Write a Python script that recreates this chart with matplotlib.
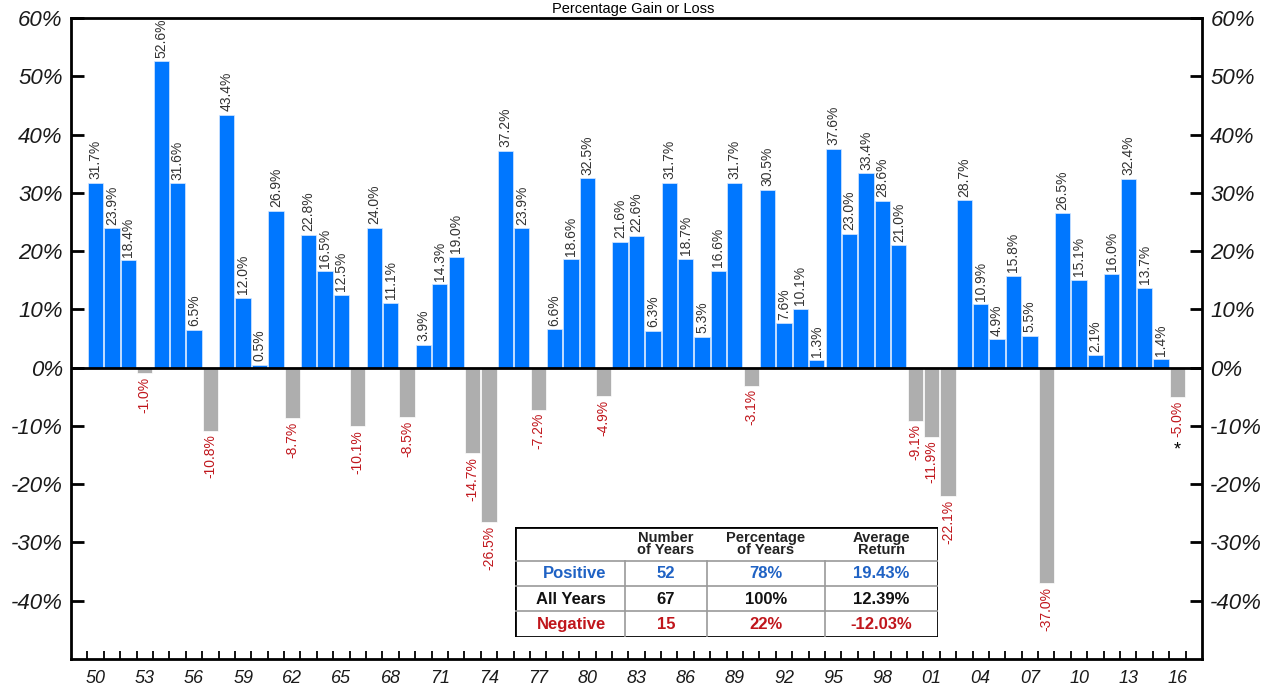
import numpy as np
import matplotlib
matplotlib.use("Agg")
from matplotlib import pyplot as plt
from matplotlib.ticker import FixedLocator

plt.rcParams['font.family'] = ['Liberation Sans', 'DejaVu Sans']

# S&P 500 calendar year returns, 1950-2016 (%)
years = np.arange(1950, 2017)
returns = np.array([
    31.7, 23.9, 18.4, -1.0, 52.6, 31.6, 6.5, -10.8, 43.4, 12.0,
    0.5, 26.9, -8.7, 22.8, 16.5, 12.5, -10.1, 24.0, 11.1, -8.5,
    3.9, 14.3, 19.0, -14.7, -26.5, 37.2, 23.9, -7.2, 6.6, 18.6,
    32.5, -4.9, 21.6, 22.6, 6.3, 31.7, 18.7, 5.3, 16.6, 31.7,
    -3.1, 30.5, 7.6, 10.1, 1.3, 37.6, 23.0, 33.4, 28.6, 21.0,
    -9.1, -11.9, -22.1, 28.7, 10.9, 4.9, 15.8, 5.5, -37.0, 26.5,
    15.1, 2.1, 16.0, 32.4, 13.7, 1.4, -5.0])

# summary table
row_names = ['Positive', 'All Years', 'Negative']
col_names = ['Number\nof Years', 'Percentage\nof Years', 'Average\nReturn']
n_years = ['52', '67', '15']
pct_years = ['78%', '100%', '22%']
avg_ret = ['19.43%', '12.39%', '-12.03%']

yticks = [-40, -30, -20, -10, 0, 10, 20, 30, 40, 50, 60]

blue = '#0077FF'
grey = '#AEAEAE'
txt_blue = '#1F62C4'
txt_red = '#C0161C'

fig = plt.figure(figsize=(12.67, 6.88), dpi=100)
ax = fig.add_axes([71/1267, 1-659/688, 1131/1267, 641/688])

x = np.arange(len(years))
pos = returns >= 0
ax.bar(x[pos], returns[pos], width=0.93, color=blue, edgecolor='#d8e8ff', linewidth=0.5, zorder=2)
ax.bar(x[~pos], returns[~pos], width=0.93, color=grey, edgecolor='white', linewidth=0.5, zorder=2)
ax.axhline(0, color='black', lw=2, zorder=3)

# value labels
for xi, v in zip(x, returns):
    if v >= 0:
        ax.text(xi, v + 0.6, f'{v:.1f}%', rotation=90, ha='center', va='bottom',
                fontsize=10, color='#333333')
    else:
        ax.text(xi, v - 0.6, f'{v:.1f}%', rotation=90, ha='center', va='top',
                fontsize=10, color=txt_red)
# 2016 was a partial year
ax.text(x[-1], returns[-1] - 7.6, '*', ha='center', va='top', fontsize=13, color='black')

ax.set_xlim(-1.5, 67.5)
ax.set_ylim(-50, 60)

ax.set_yticks(yticks)
ax.set_yticklabels([f'{t}%' for t in yticks], fontsize=16, style='italic', color='#1a1a1a')
ax.tick_params(axis='y', which='both', direction='in', length=9, width=2,
               left=True, right=True, labelleft=True, labelright=True, pad=6)

lab_idx = x[::3]
ax.set_xticks(lab_idx)
ax.set_xticklabels([f'{y % 100:02d}' for y in years[::3]], fontsize=13, style='italic', color='#1a1a1a')
ax.xaxis.set_minor_locator(FixedLocator(np.arange(-0.5, 67, 1)))
ax.tick_params(axis='x', which='major', length=0, pad=8)
ax.tick_params(axis='x', which='minor', direction='in', length=6, width=1.3, top=False)

for s in ax.spines.values():
    s.set_linewidth(2)

fig.text(0.5, 1 - 8.5/688, 'Percentage Gain or Loss', ha='center', va='center', fontsize=10.5)

# summary table drawn in pixel units
tx = fig.add_axes([515/1267, 1-637/688, 423/1267, 110/688])
tx.set_xlim(0, 423)
tx.set_ylim(110, 0)
tx.axis('off')
tx.add_patch(plt.Rectangle((0, 0), 423, 110, facecolor='white', edgecolor='black', lw=2, zorder=1))
col_edges = [0, 110, 192, 310, 423]
row_edges = [0, 34, 59, 84, 110]
for ye in row_edges[1:-1]:
    tx.plot([0, 423], [ye, ye], color='#9a9a9a', lw=1.2, zorder=2)
for xe in col_edges[1:-1]:
    tx.plot([xe, xe], [34, 110], color='#9a9a9a', lw=1.2, zorder=2)
centers = [(col_edges[i] + col_edges[i + 1]) / 2 for i in range(1, 4)]
for cx, name in zip(centers, col_names):
    tx.text(cx, 17, name, ha='center', va='center', fontsize=10.5, fontweight='bold',
            color='#222222', linespacing=0.9)
row_colors = [txt_blue, '#111111', txt_red]
for r in range(3):
    cy = (row_edges[r + 1] + row_edges[r + 2]) / 2 + 0.5
    c = row_colors[r]
    tx.text(91, cy, row_names[r], ha='right', va='center', fontsize=12, fontweight='bold', color=c)
    for cx, val in zip(centers, [n_years[r], pct_years[r], avg_ret[r]]):
        tx.text(cx, cy, val, ha='center', va='center', fontsize=12, fontweight='bold', color=c)

fig.savefig('out.png', dpi=100)
